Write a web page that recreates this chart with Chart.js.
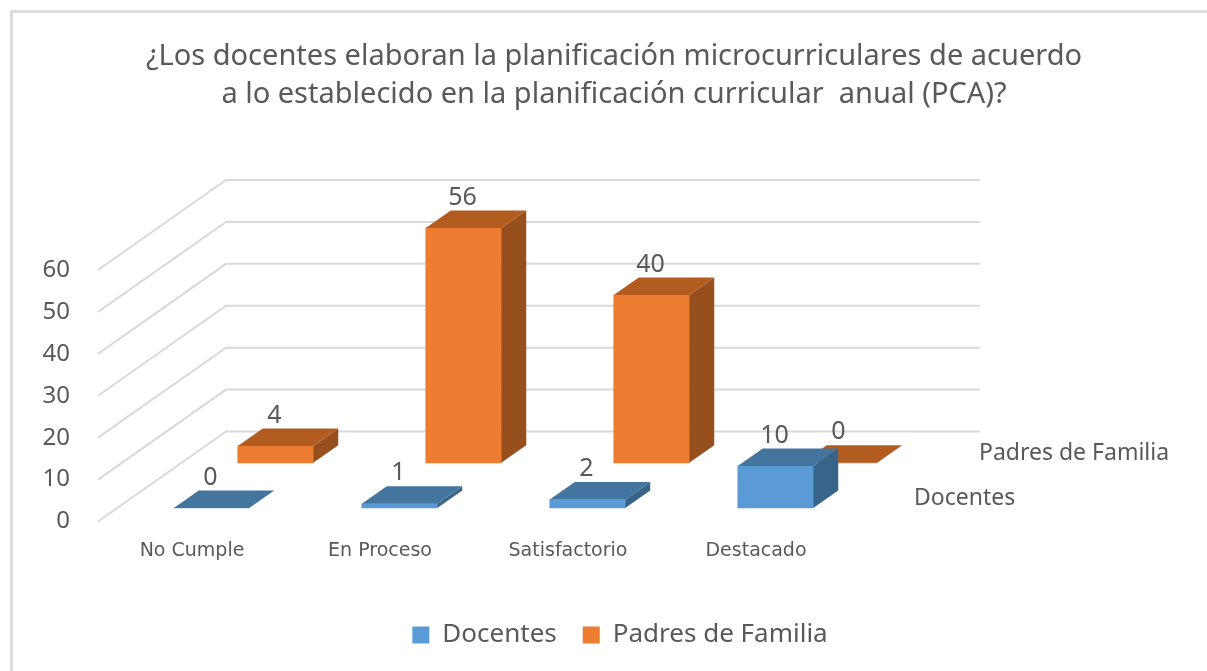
<!DOCTYPE html>
<html><head><meta charset="utf-8">
<style>
html,body{margin:0;padding:0;background:#fff;overflow:hidden}
#frame{position:absolute;left:10px;top:10px;width:1300px;height:700px;border:3px solid #dcdcdc}
#wrap{position:absolute;left:0;top:0;width:1207px;height:671px}
</style>
<script src="https://cdn.jsdelivr.net/npm/chart.js@4"></script>
</head><body>
<div id="frame"></div>
<div id="wrap"><canvas id="c" width="1207" height="671"></canvas></div>
<script>
const categories = ["No Cumple","En Proceso","Satisfactorio","Destacado"];
const docentes = [0,1,2,10];
const padres = [4,56,40,0];
const titleLines = ["¿Los docentes elaboran la planificación microcurriculares de acuerdo","a lo establecido en la planificación curricular  anual (PCA)?"];
const FONT = '"Noto Sans"';
const TEXT = '#595959';
const depth = {dx:25, dy:-17.5};
const wall = {dx:128, dy:-90, right:980};
const seriesStyle = [
  {dx:19.5, dy:-13.5, top:'#44759F', side:'#386489', labelX:914, labelY:498},
  {dx:83.5, dy:-58.7, top:'#B35C20', side:'#964F1D', labelX:979, labelY:453}
];
const threeD = {
  id:'threeD',
  afterLayout(chart){
    chart.titleBlock.left=0; chart.titleBlock.right=1228;
    chart.legend.left=0; chart.legend.right=1240;
  },
  beforeDatasetsDraw(chart){
    const ctx=chart.ctx, y=chart.scales.y, x=chart.scales.x;
    ctx.save();
    ctx.strokeStyle='#D9D9D9'; ctx.lineWidth=2;
    y.ticks.forEach(t=>{
      const py=y.getPixelForValue(t.value);
      ctx.beginPath();
      ctx.moveTo(x.left,py);
      ctx.lineTo(x.left+wall.dx,py+wall.dy);
      ctx.lineTo(wall.right,py+wall.dy);
      ctx.stroke();
    });
    ctx.restore();
  },
  beforeDatasetDraw(chart,args){
    const s=seriesStyle[args.index];
    chart.ctx.save();
    chart.ctx.translate(s.dx,s.dy);
  },
  afterDatasetDraw(chart,args){
    const ctx=chart.ctx, s=seriesStyle[args.index];
    args.meta.data.forEach(b=>{
      const p=b.getProps(['x','y','base','width'],true);
      const l=p.x-p.width/2, r=p.x+p.width/2;
      ctx.fillStyle=s.side;
      ctx.beginPath();
      ctx.moveTo(r,p.y);ctx.lineTo(r+depth.dx,p.y+depth.dy);
      ctx.lineTo(r+depth.dx,p.base+depth.dy);ctx.lineTo(r,p.base);
      ctx.closePath();ctx.fill();
      ctx.fillStyle=s.top;
      ctx.beginPath();
      ctx.moveTo(l,p.y);ctx.lineTo(l+depth.dx,p.y+depth.dy);
      ctx.lineTo(r+depth.dx,p.y+depth.dy);ctx.lineTo(r,p.y);
      ctx.closePath();ctx.fill();
    });
    ctx.restore();
  },
  afterDatasetsDraw(chart){
    const ctx=chart.ctx;
    ctx.save();
    ctx.fillStyle=TEXT; ctx.textAlign='center'; ctx.textBaseline='middle';
    ctx.font='25px '+FONT;
    chart.data.datasets.forEach((d,i)=>{
      const s=seriesStyle[i];
      chart.getDatasetMeta(i).data.forEach((b,j)=>{
        const p=b.getProps(['x','y'],true);
        ctx.fillText(String(d.data[j]),p.x+s.dx-1,p.y+s.dy+depth.dy-13);
      });
    });
    ctx.textAlign='left';
    ctx.font='23px '+FONT;
    chart.data.datasets.forEach((d,i)=>{
      const s=seriesStyle[i];
      ctx.fillText(d.label,s.labelX,s.labelY);
    });
    ctx.restore();
  }
};
new Chart(document.getElementById('c'),{
  type:'bar',
  data:{labels:categories,datasets:[
    {label:'Docentes',data:docentes,backgroundColor:'#5B9BD5',clip:false},
    {label:'Padres de Familia',data:padres,backgroundColor:'#ED7D31',clip:false}
  ]},
  plugins:[threeD],
  options:{
    responsive:false,animation:false,
    layout:{padding:{left:0,right:357,top:0,bottom:13}},
    datasets:{bar:{grouped:false,barThickness:75.5,borderWidth:0}},
    scales:{
      x:{grid:{display:false,drawTicks:false},border:{display:false},
         ticks:{color:TEXT,font:{family:'"DejaVu Sans"',size:19},padding:18,maxRotation:0},
         afterFit(a){a.height=74.5;}},
      y:{min:0,max:60,grid:{display:false,drawTicks:false},border:{display:false},
         ticks:{stepSize:10,color:TEXT,font:{family:FONT,size:24},padding:28},
         afterFit(a){a.width=98;}}
    },
    plugins:{
      tooltip:{enabled:false},
      title:{display:true,text:titleLines,color:TEXT,font:{family:FONT,size:29,weight:'normal',lineHeight:1.31},padding:{top:37.5,bottom:156.5}},
      legend:{position:'bottom',labels:{color:TEXT,font:{family:FONT,size:26},boxWidth:17,boxHeight:17,padding:26}}
    }
  }
});
</script>
</body></html>
